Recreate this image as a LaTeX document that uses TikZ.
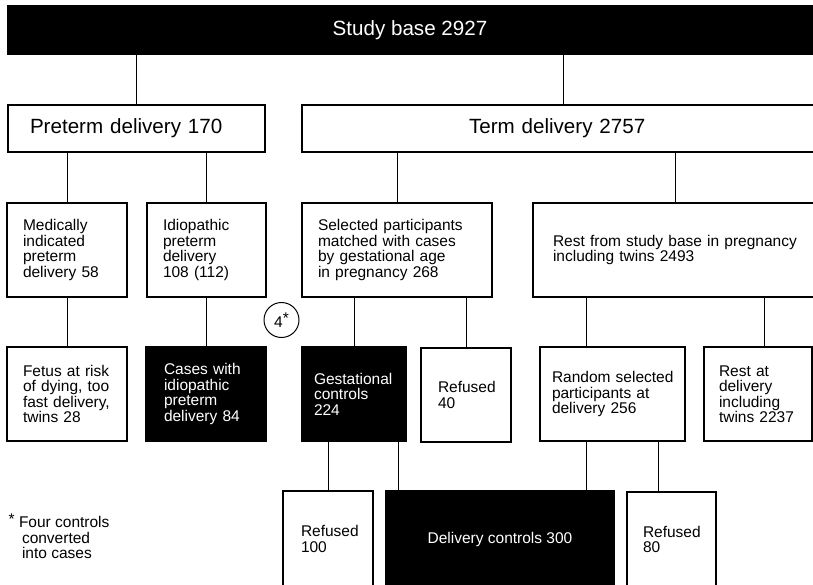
\documentclass[tikz,border=0pt]{standalone}
\usepackage{fontspec}
\setmainfont{Liberation Sans}
\begin{document}
\begin{tikzpicture}[x=1pt,y=-1pt,
  txt/.style={font=\fontsize{15.5}{15.5}\selectfont},
  bigtxt/.style={font=\fontsize{20.6}{22}\selectfont},
  flowbox/.style={draw, line width=1.3pt, inner ysep=0pt, align=left, txt,
    execute at begin node={\hyphenpenalty=10000 }},
  thickbox/.style={flowbox, line width=2.2pt},
  darkbox/.style={fill=black, text=white},
  conn/.style={line width=0.9pt},
  bx/.style n args={4}{minimum width=#1, minimum height=#2, inner xsep=#3, text width=#4},
]
\useasboundingbox (0,0) rectangle (813,584);
\fill[white] (0,0) rectangle (813,584);
\clip (0,0) rectangle (813,584);

% row 1
\node[flowbox, darkbox, bigtxt, align=center, minimum width=804pt, minimum height=48pt, inner sep=0pt]
  (study) at (410,30) {Study base 2927};

% row 2
\node[flowbox, bigtxt, bx={257pt}{47pt}{22pt}{213pt}] (preterm) at (136.5,128.5) {Preterm delivery 170};
\node[flowbox, bigtxt, bx={522pt}{47pt}{167pt}{188pt}] (term) at (563,128.5) {Term delivery 2757};

% row 3
\node[flowbox, bx={120pt}{94pt}{16pt}{88pt}] (med) at (67,250)
  {Medically\\indicated\\preterm\\delivery~58};
\node[flowbox, bx={119pt}{94pt}{16pt}{87pt}] (idio) at (206.5,250)
  {Idiopathic\\preterm\\delivery\\108~(112)};
\node[flowbox, bx={190pt}{94pt}{16pt}{158pt}] (sel) at (397,250)
  {Selected~participants\\matched~with~cases\\by~gestational~age\\in~pregnancy~268};
\node[flowbox, bx={284pt}{94pt}{20pt}{244pt}] (rest) at (675,250)
  {Rest~from~study~base~in~pregnancy\\including~twins~2493};

% row 4
\node[flowbox, bx={120pt}{94pt}{16pt}{88pt}] (fetus) at (67,394)
  {Fetus~at~risk\\of~dying,~too\\fast~delivery,\\twins~28};
\node[flowbox, darkbox, bx={120pt}{94pt}{18pt}{84pt}] (cases) at (206,394)
  {Cases~with\\idiopathic\\preterm\\delivery~84};
\node[flowbox, darkbox, bx={104pt}{94pt}{12pt}{80pt}] (gest) at (354,394)
  {Gestational\\controls\\224};
\node[thickbox, bx={90pt}{94pt}{17pt}{56pt}] (ref40) at (466,395)
  {Refused\\40};
\node[flowbox, bx={145pt}{94pt}{12pt}{121pt}] (random) at (612.5,394)
  {Random~selected\\participants~at\\delivery~256};
\node[flowbox, bx={108pt}{94pt}{15pt}{78pt}] (restdel) at (758,394)
  {Rest~at\\delivery\\including\\twins~2237};

% row 5
\node[thickbox, bx={90pt}{96pt}{18pt}{54pt}] (ref100) at (328,539)
  {Refused\\100};
\node[flowbox, darkbox, align=center, minimum width=228pt, minimum height=96pt, inner sep=0pt]
  (deliv) at (500,539) {Delivery controls 300};
\node[thickbox, bx={89pt}{95pt}{16pt}{57pt}] (ref80) at (671.5,539.5)
  {Refused\\80};

% circled note
\node[circle, draw, line width=1pt, minimum size=35pt, inner sep=0pt, txt] (four) at (281.5,320)
  {4\raisebox{3.5pt}{*}};

% footnote
\node[txt, anchor=base west, inner sep=0pt] (fnstar) at (8.5,524.3) {*};
\node[txt, anchor=north west, align=left, inner sep=0pt] (fntext) at (18.8,516.5)
  {Four controls\\\hspace*{3pt}converted\\\hspace*{3pt}into cases};

% connectors
\draw[conn] (study.south -| preterm.north) -- (preterm.north);
\draw[conn] (study.south -| term.north) -- (term.north);
\draw[conn] (preterm.south -| med.north) -- (med.north);
\draw[conn] (preterm.south -| idio.north) -- (idio.north);
\draw[conn] (term.south -| sel.north) -- (sel.north);
\draw[conn] (term.south -| rest.north) -- (rest.north);
\draw[conn] (med.south) -- (fetus.north);
\draw[conn] (idio.south -| cases.north) -- (cases.north);
\draw[conn] (sel.south -| gest.north) -- (gest.north);
\draw[conn] (sel.south -| ref40.north) -- (ref40.north);
\coordinate (c1) at ([xshift=-26.5pt]random.north);
\draw[conn] (c1) -- (c1 |- rest.south);
\coordinate (c2) at ([xshift=6pt]restdel.north);
\draw[conn] (c2) -- (c2 |- rest.south);
\draw[conn] (ref100.north) -- (ref100.north |- gest.south);
\coordinate (c3) at ([xshift=44pt]gest.south);
\draw[conn] (c3) -- (c3 |- deliv.north);
\coordinate (c4) at ([xshift=-26.5pt]random.south);
\draw[conn] (c4) -- (c4 |- deliv.north);
\coordinate (c5) at ([xshift=-13.5pt]ref80.north);
\draw[conn] (c5) -- (c5 |- random.south);
\end{tikzpicture}
\end{document}
